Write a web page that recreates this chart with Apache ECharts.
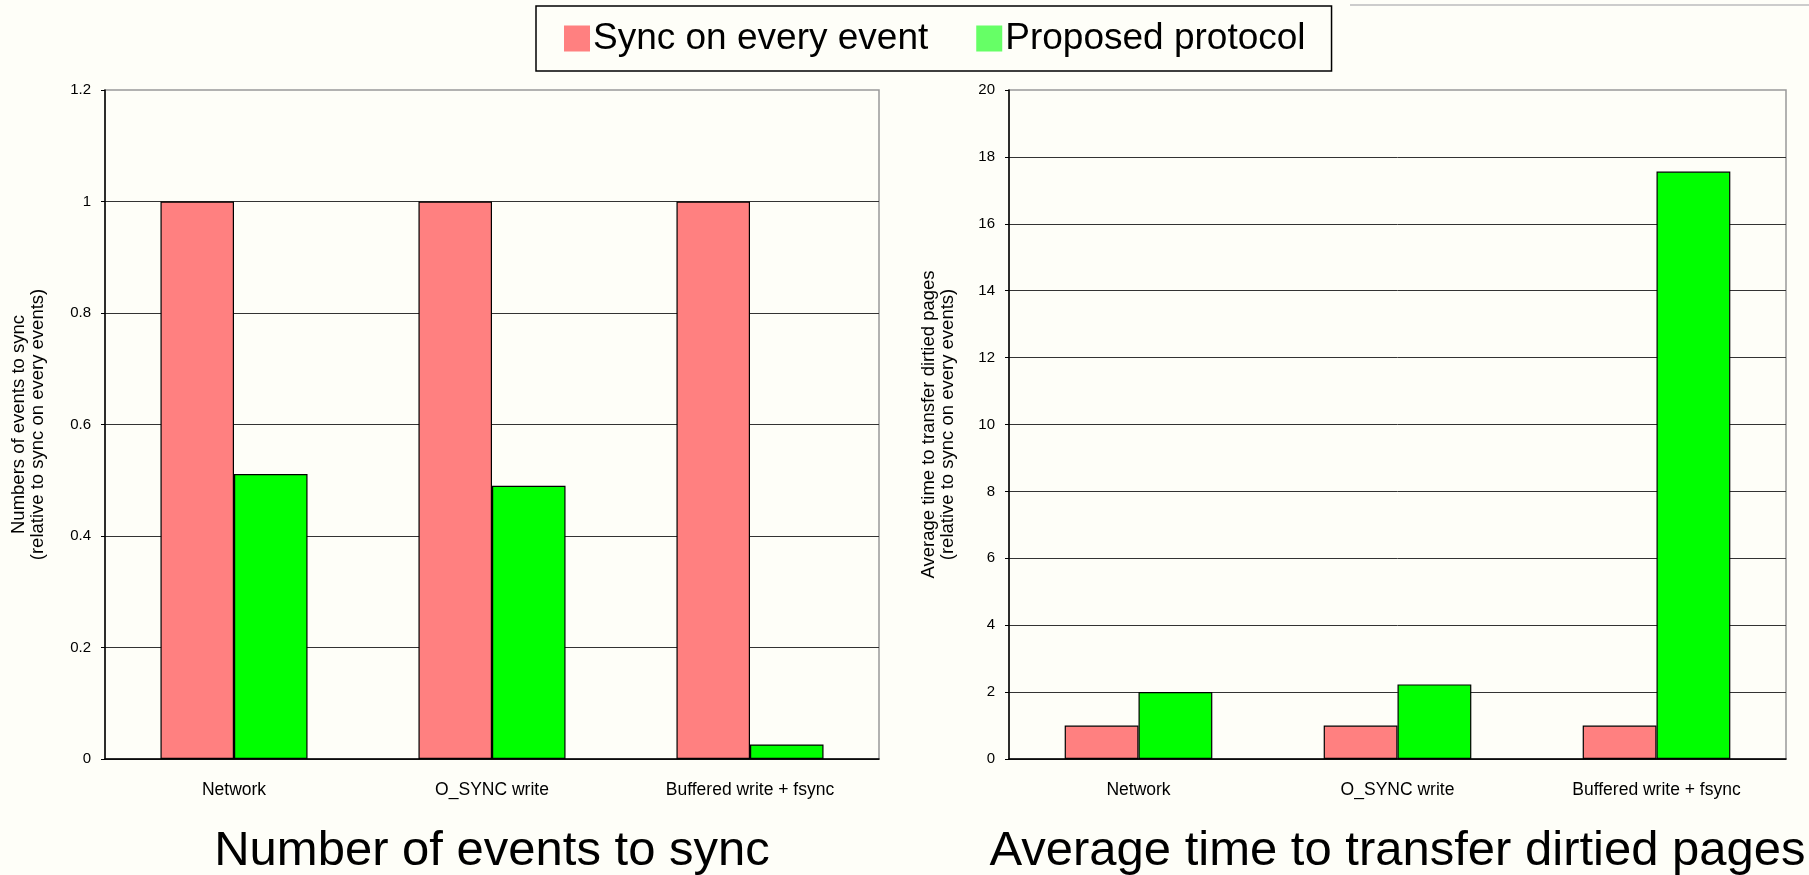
<!DOCTYPE html>
<html>
<head>
<meta charset="utf-8">
<script src="https://cdn.jsdelivr.net/npm/echarts@6/dist/echarts.min.js"></script>
<style>
html,body{margin:0;padding:0;background:#FEFEF8;}
#c{width:1809px;height:875px;}
</style>
</head>
<body>
<div id="c"></div>
<script>
const categories = ['Network', 'O_SYNC write', 'Buffered write + fsync'];
const seriesNames = ['Sync on every event', 'Proposed protocol'];
const syncEventsCount = [1, 1, 1];
const proposedEventsCount = [0.511, 0.49, 0.026];
const syncTransferTime = [1, 1, 1];
const proposedTransferTime = [2.0, 2.23, 17.56];
const chartTitles = ['Number of events to sync', 'Average time to transfer dirtied pages'];
const yNames = ['Numbers of events to sync\n(relative to sync on every events)',
                'Average time to transfer dirtied pages\n(relative to sync on every events)'];

const FONT = 'Liberation Sans, Arial, sans-serif';
const PINK = '#FF8080', GREEN = '#00FF00';

const chart = echarts.init(document.getElementById('c'));

function xAxis(gi, title) {
  return {
    type: 'category', gridIndex: gi, data: categories,
    axisLine: {lineStyle: {color: '#000', width: 1.5}},
    axisTick: {inside: true, length: 5, lineStyle: {color: '#000'}},
    axisLabel: {fontFamily: FONT, fontSize: 17.5, color: '#000', margin: 22},
    name: title, nameLocation: 'middle', nameGap: 68,
    nameTextStyle: {fontFamily: FONT, fontSize: 49, color: '#000'}
  };
}
function yAxis(gi, max, interval, name, gap) {
  return {
    type: 'value', gridIndex: gi, min: 0, max: max, interval: interval,
    axisLine: {show: true, lineStyle: {color: '#000', width: 1.5}},
    axisTick: {show: true, length: 4, lineStyle: {color: '#000'}},
    axisLabel: {fontFamily: FONT, fontSize: 15, color: '#000', margin: 14},
    splitLine: {show: true, showMaxLine: false, lineStyle: {color: '#333', width: 1}},
    name: name, nameLocation: 'middle', nameGap: gap, nameRotate: 90,
    nameTextStyle: {fontFamily: FONT, fontSize: 18.5, color: '#000', lineHeight: 19, align: 'center'}
  };
}
function bar(name, gi, data, color) {
  return {
    type: 'bar', name: name, xAxisIndex: gi, yAxisIndex: gi, data: data,
    barGap: '0%', barCategoryGap: '43%',
    itemStyle: {color: color, borderColor: '#000', borderWidth: 1.2},
    emphasis: {disabled: true}
  };
}

chart.setOption({
  backgroundColor: '#FEFEF8',
  animation: false,
  legend: {
    left: 536, top: 6,
    data: [
      {name: seriesNames[0], itemStyle: {color: PINK, borderWidth: 0}},
      {name: seriesNames[1], itemStyle: {color: '#66FF66', borderWidth: 0}}
    ],
    icon: 'rect', itemWidth: 26, itemHeight: 26, itemGap: 48,
    padding: [14, 26, 14, 28],
    borderColor: '#000', borderWidth: 1.5,
    textStyle: {fontFamily: FONT, fontSize: 37, color: '#000', padding: [0, 0, 0, -2]},
    selectedMode: false
  },
  grid: [
    {left: 105, top: 90, width: 774, height: 669, show: true, borderColor: '#999', borderWidth: 1.5,
     containLabel: false, outerBoundsMode: 'none'},
    {left: 1009, top: 90, width: 777, height: 669, show: true, borderColor: '#999', borderWidth: 1.5,
     containLabel: false, outerBoundsMode: 'none'}
  ],
  xAxis: [xAxis(0, chartTitles[0]), xAxis(1, chartTitles[1])],
  yAxis: [yAxis(0, 1.2, 0.2, yNames[0], 58), yAxis(1, 20, 2, yNames[1], 52)],
  series: [
    bar(seriesNames[0], 0, syncEventsCount, PINK),
    bar(seriesNames[1], 0, proposedEventsCount, GREEN),
    bar(seriesNames[0], 1, syncTransferTime, PINK),
    bar(seriesNames[1], 1, proposedTransferTime, GREEN)
  ],
  graphic: [
    {type: 'line', shape: {x1: 1350, y1: 5, x2: 1809, y2: 5}, style: {stroke: '#CCCCCC', lineWidth: 2}, silent: true}
  ]
});
</script>
</body>
</html>
